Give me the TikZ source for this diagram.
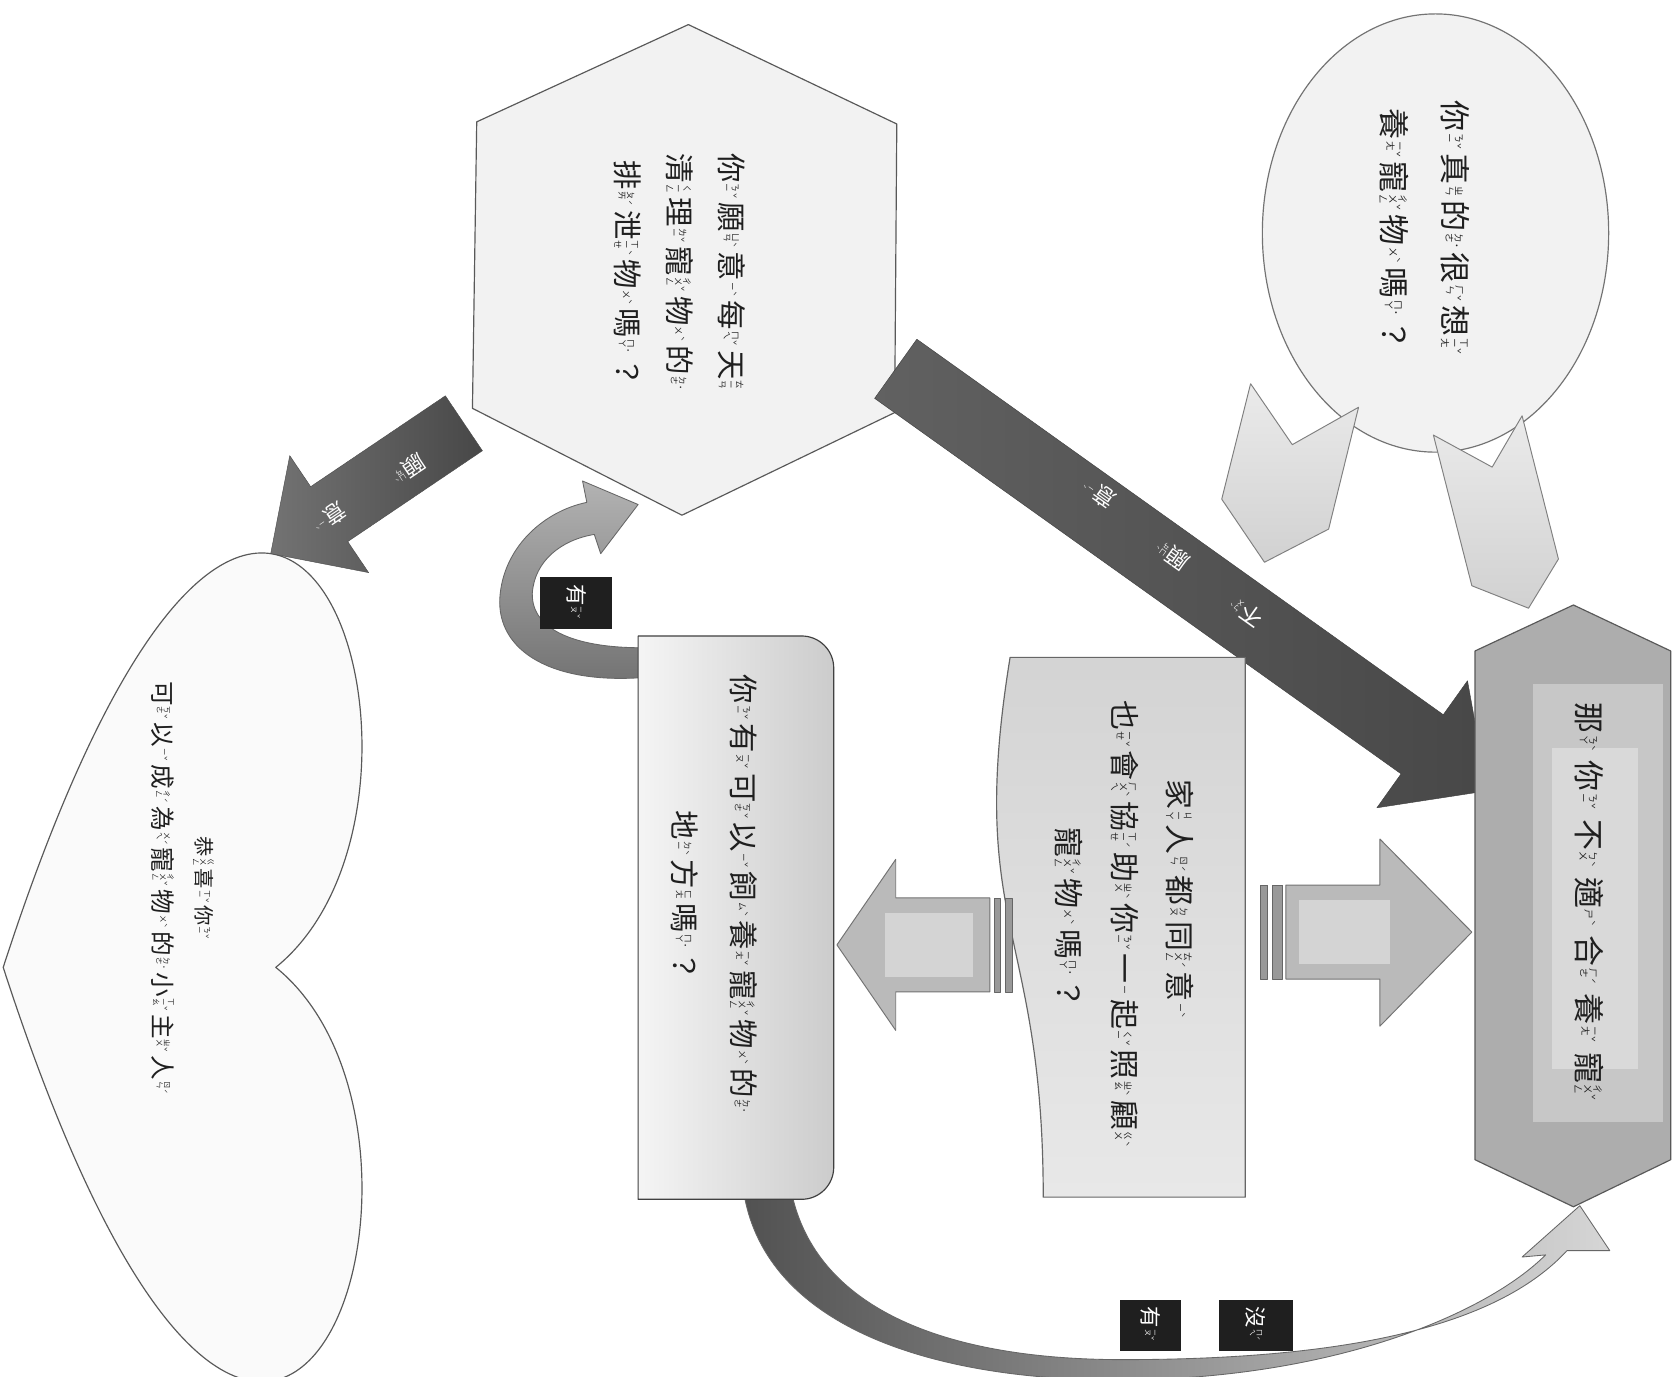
\documentclass[tikz,border=0pt]{standalone}
\usepackage{fontspec}
\setmainfont{Noto Sans CJK TC}
\newcommand\zyf{\fontsize{8}{8}\selectfont}
\newcommand\zyextra{0pt}
\newcommand\zy[3]{#1\kern.05em\raisebox{.12em}{$\vcenter{\zyf\baselineskip=1em\lineskiplimit=-100pt\halign{\hfil##\hfil\cr#2\crcr}}$}\kern.02em\raisebox{.3em}{\zyf#3}\kern.14em\kern\zyextra}
\newcommand\zNi{\zy{你}{ㄋ\cr ㄧ}{ˇ}}
\newcommand\zChong{\zy{寵}{ㄔ\cr ㄨ\cr ㄥ}{ˇ}}
\newcommand\zWu{\zy{物}{ㄨ}{ˋ}}
\newcommand\zMa{\zy{嗎}{ㄇ\cr ㄚ}{˙}}
\newcommand\zDe{\zy{的}{ㄉ\cr ㄜ}{˙}}
\newcommand\zYang{\zy{養}{ㄧ\cr ㄤ}{ˇ}}
\newcommand\zYi{\zy{意}{ㄧ}{ˋ}}
\newcommand\zYuan{\zy{願}{ㄩ\cr ㄢ}{ˋ}}
\begin{document}
\begin{tikzpicture}[x=1pt,y=-1pt,line join=round,
  outl/.style={draw=black!65, line width=1.1pt},
  txt/.style={rotate=-90, align=center, inner sep=0pt, text=black!88},
  bigtxt/.style={txt, font=\fontsize{27}{52}\selectfont\def\zyf{\fontsize{8.5}{8.5}\selectfont}},
  arrlab/.style={inner sep=0pt, text=white, font=\fontsize{21}{21}\selectfont\def\zyf{\fontsize{6.5}{6.5}\selectfont}},
  lab/.style={rotate=-90, fill=black!88, text=white, inner sep=0pt, minimum width=48, font=\fontsize{20}{20}\selectfont\def\zyf{\fontsize{6.5}{6.5}\selectfont}}]
\path[fill=white] (0,0) rectangle (1568,1288);
\useasboundingbox (0,0) rectangle (1568,1288);

% heart
\draw[outl, fill=black!2] (258,905) .. controls (456,1065) and (258,1691) .. (3,905) .. controls (258,119) and (456,745) .. (258,905) -- cycle;
\node[txt, font=\fontsize{23}{40}\selectfont\def\zyf{\fontsize{7}{7}\selectfont}] (heartT) at (171,832)
  {{\fontsize{19}{19}\selectfont\zy{恭}{ㄍ\cr ㄨ\cr ㄥ}{}\zy{喜}{ㄒ\cr ㄧ}{ˇ}\zNi}\\
   \zy{可}{ㄎ\cr ㄜ}{ˇ}\zy{以}{ㄧ}{ˇ}\zy{成}{ㄔ\cr ㄥ}{ˊ}\zy{為}{ㄨ\cr ㄟ}{ˊ}\zChong\zWu\zDe\zy{小}{ㄒ\cr ㄧ\cr ㄠ}{ˇ}\zy{主}{ㄓ\cr ㄨ}{ˇ}\zy{人}{ㄖ\cr ㄣ}{ˊ}};

% small arrow (willing)
\begin{scope}[shift={(434,396)}, rotate=-146]
\shade[draw=black!70, left color=black!55, right color=black!72] (0,-31) -- (152,-31) -- (152,-66) -- (218,0) -- (152,66) -- (152,31) -- (0,31) -- cycle;
\end{scope}
\node[arrlab, rotate=-146] (w1) at (381,440) {\zYuan};
\node[arrlab, rotate=-146] (w2) at (307,485) {\zYi};

% hexagon
\draw[outl, fill=black!5] (644,23) -- (839,116) -- (837,386) -- (638,482) -- (442,382) -- (446,114) -- cycle;
\node[bigtxt, font=\fontsize{27.5}{49}\selectfont] (hexT) at (636,256)
  {\zNi\zYuan\zYi\zy{每}{ㄇ\cr ㄟ}{ˇ}\zy{天}{ㄊ\cr ㄧ\cr ㄢ}{}\\
   \zy{清}{ㄑ\cr ㄧ\cr ㄥ}{}\zy{理}{ㄌ\cr ㄧ}{ˇ}\zChong\zWu\zDe\\
   \zy{排}{ㄆ\cr ㄞ}{ˊ}\zy{泄}{ㄒ\cr ㄧ\cr ㄝ}{ˋ}\zWu\zMa？};

% big arrow (not willing)
\begin{scope}[shift={(838,345)}, rotate=-35.5]
\shade[draw=black!75, left color=black!62, right color=black!72] (0,-34) -- (605,-34) -- (605,-73) -- (680,0) -- (605,73) -- (605,34) -- (0,34) -- cycle;
\end{scope}
\node[arrlab, rotate=144.5] (n1) at (1165,571) {\zy{不}{ㄅ\cr ㄨ}{ˋ}};
\node[arrlab, rotate=144.5] (n2) at (1096,518) {\zYuan};
\node[arrlab, rotate=144.5] (n3) at (1027,461) {\zYi};

% ellipse
\draw[outl, draw=black!55, fill=black!5] (1343,218) ellipse [x radius=162, y radius=205];
\node[bigtxt, font=\fontsize{29}{57}\selectfont\def\zyf{\fontsize{9}{9}\selectfont}] (ellT) at (1333,215)
  {\zNi\zy{真}{ㄓ\cr ㄣ}{}\zDe\zy{很}{ㄏ\cr ㄣ}{ˇ}\zy{想}{ㄒ\cr ㄧ\cr ㄤ}{ˇ}\\
   \zYang\zChong\zWu\zMa？};

% chevrons
\shade[draw=black!50, line width=0.9pt, top color=black!8, bottom color=black!18] (1170,359) -- (1209,416) -- (1271,381) -- (1243,495) -- (1183,526) -- (1143,467) -- cycle;
\shade[draw=black!50, line width=0.9pt, top color=black!8, bottom color=black!18] (1341,407) -- (1396,437) -- (1424,389) -- (1458,523) -- (1430,569) -- (1377,548) -- cycle;

% right box
\draw[outl, fill=black!32] (1380,609) -- (1472,566) -- (1563,609) -- (1563,1085) -- (1472,1129) -- (1380,1085) -- cycle;
\fill[black!22] (1434,640) rectangle (1556,1050);
\fill[black!15] (1452,700) rectangle (1532,1000);
\node[bigtxt, font=\fontsize{29}{52}\selectfont\def\zyf{\fontsize{9}{9}\selectfont}\def\zyextra{5pt}] (boxT) at (1487,848)
  {\zy{那}{ㄋ\cr ㄚ}{ˋ}\zNi\zy{不}{ㄅ\cr ㄨ}{ˋ}\zy{適}{ㄕ}{ˋ}\zy{合}{ㄏ\cr ㄜ}{ˊ}\zYang\zChong};

% wave (document) shape
\shade[outl, draw=black!60, top color=black!17, bottom color=black!9] (1165,615) -- (1165,1120) -- (976,1120) .. controls (976,867) and (904,867) .. (945,615) -- cycle;
\node[bigtxt, font=\fontsize{28}{52}\selectfont\def\zyf{\fontsize{8.5}{8.5}\selectfont}] (waveT) at (1052,866)
  {\zy{家}{ㄐ\cr ㄧ\cr ㄚ}{}\zy{人}{ㄖ\cr ㄣ}{ˊ}\zy{都}{ㄉ\cr ㄡ}{}\zy{同}{ㄊ\cr ㄨ\cr ㄥ}{ˊ}\zYi\hspace*{46pt}\\
   \zy{也}{ㄧ\cr ㄝ}{ˇ}\zy{會}{ㄏ\cr ㄨ\cr ㄟ}{ˋ}\zy{協}{ㄒ\cr ㄧ\cr ㄝ}{ˊ}\zy{助}{ㄓ\cr ㄨ}{ˋ}\zNi\zy{一}{ㄧ}{}\zy{起}{ㄑ\cr ㄧ}{ˇ}\zy{照}{ㄓ\cr ㄠ}{ˋ}\zy{顧}{ㄍ\cr ㄨ}{ˋ}\\
   \zChong\zWu\zMa？\hspace*{14pt}};

% block arrows
\fill[black!40, draw=black!60] (1179,828) rectangle (1186,916);
\fill[black!40, draw=black!60] (1190,828) rectangle (1200,916);
\draw[draw=black!55, line width=0.9pt, fill=black!27] (1203,828) -- (1291,828) -- (1291,785) -- (1377,872) -- (1291,960) -- (1291,916) -- (1203,916) -- cycle;
\fill[black!17] (1215,842) rectangle (1300,902);
\fill[black!40, draw=black!60] (930,840) rectangle (936,928);
\fill[black!40, draw=black!60] (940,840) rectangle (947,928);
\draw[draw=black!55, line width=0.9pt, fill=black!27] (926,840) -- (838,840) -- (838,804) -- (783,884) -- (838,964) -- (838,928) -- (926,928) -- cycle;
\fill[black!17] (828,854) rectangle (910,914);

% ribbon arrows
\shade[draw=black!60, line width=0.8pt, left color=black!68, right color=black!16]
  (697,1122) .. controls (722,1245) and (880,1292) .. (1050,1291) .. controls (1250,1290) and (1392,1228) .. (1446,1174)
  -- (1424,1176) -- (1478,1128) -- (1506,1170) -- (1466,1170)
  .. controls (1398,1244) and (1250,1272) .. (1050,1272) .. controls (885,1272) and (768,1225) .. (742,1122) -- cycle;
\shade[draw=black!60, line width=0.8pt, top color=black!30, bottom color=black!55]
  (600,634) .. controls (510,640) and (462,605) .. (468,555) .. controls (473,510) and (510,478) .. (549,470)
  -- (545,450) -- (597,472) -- (562,518) -- (556,500)
  .. controls (525,505) and (500,525) .. (498,555) .. controls (497,590) and (540,606) .. (600,606) -- cycle;

% rounded box
\draw[draw=black!75, line width=1.1pt, left color=black!4, right color=black!20] (597,595) -- (750,595) arc[start angle=-90, end angle=0, radius=30] -- (780,1092) arc[start angle=0, end angle=90, radius=30] -- (597,1122) -- cycle;
\node[bigtxt, font=\fontsize{27.5}{55}\selectfont] (roundT) at (668,838)
  {\zNi\zy{有}{ㄧ\cr ㄡ}{ˇ}\zy{可}{ㄎ\cr ㄜ}{ˇ}\zy{以}{ㄧ}{ˇ}\zy{飼}{ㄙ}{ˋ}\zYang\zChong\zWu\zDe\\
   \zy{地}{ㄉ\cr ㄧ}{ˋ}\zy{方}{ㄈ\cr ㄤ}{}\zMa？};

% labels
\node[lab, minimum height=68] (yes1) at (539,564) {\zy{有}{ㄧ\cr ㄡ}{ˇ}};
\node[lab, minimum height=57] (yes2) at (1076,1240) {\zy{有}{ㄧ\cr ㄡ}{ˇ}};
\node[lab, minimum height=70] (no1) at (1175,1240) {\zy{沒}{ㄇ\cr ㄟ}{ˊ}};
\end{tikzpicture}
\end{document}
